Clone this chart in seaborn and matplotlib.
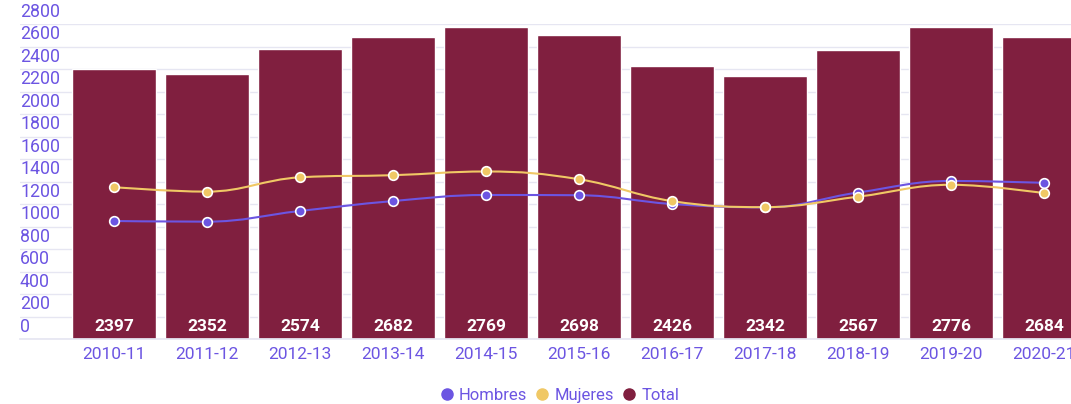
import numpy as np
import pandas as pd
import matplotlib.pyplot as plt
from matplotlib.path import Path
from matplotlib.patches import PathPatch
from matplotlib.lines import Line2D
import seaborn as sns

sns.set_theme(style="white")
plt.rcParams['font.family'] = ['Roboto', 'DejaVu Sans']

seasons = ["2010-11", "2011-12", "2012-13", "2013-14", "2014-15", "2015-16",
           "2016-17", "2017-18", "2018-19", "2019-20", "2020-21"]
total = [2397, 2352, 2574, 2682, 2769, 2698, 2426, 2342, 2567, 2776, 2684]
hombres = [1049, 1043, 1138, 1226, 1280, 1278, 1200, 1170, 1302, 1405, 1388]
mujeres = [1350, 1310, 1437, 1456, 1489, 1420, 1226, 1172, 1265, 1371, 1296]
yticks = list(range(0, 2801, 200))

C_TOTAL = "#801f3f"
C_HOM = "#6c55e2"
C_MUJ = "#f0c865"
C_TEXT = "#6c55e2"
C_GRID = "#e6e6f2"


def spline_path(xs, ys, smoothing=1.5):
    # bezier path through the points, same idea as the highcharts spline
    n = len(xs)
    verts = [(xs[0], ys[0])]
    codes = [Path.MOVETO]
    right_prev = (xs[0], ys[0])
    for i in range(1, n):
        px, py = xs[i], ys[i]
        if i < n - 1:
            lx, ly = xs[i - 1], ys[i - 1]
            nx, ny = xs[i + 1], ys[i + 1]
            d = smoothing + 1
            lcx, lcy = (smoothing * px + lx) / d, (smoothing * py + ly) / d
            rcx, rcy = (smoothing * px + nx) / d, (smoothing * py + ny) / d
            corr = (rcy - lcy) * (rcx - px) / (rcx - lcx) + py - rcy
            lcy += corr
            rcy += corr
            if lcy > ly and lcy > py:
                lcy = max(ly, py)
                rcy = 2 * py - lcy
            elif lcy < ly and lcy < py:
                lcy = min(ly, py)
                rcy = 2 * py - lcy
            if rcy > ny and rcy > py:
                rcy = max(ny, py)
                lcy = 2 * py - rcy
            elif rcy < ny and rcy < py:
                rcy = min(ny, py)
                lcy = 2 * py - rcy
            left_c = (lcx, lcy)
            right_c = (rcx, rcy)
        else:
            left_c = (px, py)
            right_c = (px, py)
        verts += [right_prev, left_c, (px, py)]
        codes += [Path.CURVE4] * 3
        right_prev = right_c
    return Path(verts, codes)


df = pd.DataFrame({"temporada": seasons, "total": total})
pos = np.arange(len(seasons))

fig = plt.figure(figsize=(10.71, 4.04), dpi=100)
ax = fig.add_axes([20 / 1071, 1 - 339 / 404, 1070.5 / 1071, 315 / 404])

for v in yticks:
    ax.axhline(v, color=C_GRID, lw=1, zorder=0)

sns.barplot(data=df, x="temporada", y="total", order=seasons, color=C_TOTAL,
            saturation=1, width=0.9, ax=ax, zorder=2)

for x, v in zip(pos, total):
    ax.annotate(str(v), xy=(x, 0), xytext=(0, 3.5), textcoords="offset points",
                ha="center", va="bottom", color="white", fontsize=12.5,
                fontweight="bold", zorder=5)

for vals, col in [(hombres, C_HOM), (mujeres, C_MUJ)]:
    ax.add_patch(PathPatch(spline_path(pos, vals), facecolor="none",
                           edgecolor=col, lw=1.5, zorder=3))
    sns.scatterplot(x=pos, y=vals, color=col, s=48, edgecolor="white",
                    linewidth=1.2, ax=ax, zorder=4)

ax.set_xlim(-1.01, 10.5)
ax.set_ylim(0, 2800)
ax.set_xlabel("")
ax.set_ylabel("")
ax.set_yticks([])
ax.set_xticks(pos)
ax.set_xticklabels(seasons, color=C_TEXT, fontsize=12.5)
ax.tick_params(axis="x", length=0, pad=5.5)
for s in ["top", "right", "left"]:
    ax.spines[s].set_visible(False)
ax.spines["bottom"].set_color(C_GRID)

for v in yticks:
    ax.annotate(str(v), xy=(0, v), xycoords=("axes fraction", "data"),
                xytext=(0, 2.5), textcoords="offset points", ha="left",
                va="bottom", color=C_TEXT, fontsize=12.8, zorder=1)

handles = [Line2D([], [], marker="o", ls="", color=c, markersize=8)
           for c in [C_HOM, C_MUJ, C_TOTAL]]
fig.legend(handles, ["Hombres", "Mujeres", "Total"], loc="center",
           bbox_to_anchor=(0.522, 0.022), ncol=3, frameon=False,
           handletextpad=0.25, columnspacing=0.5, labelcolor=C_TEXT,
           fontsize=12, handlelength=0.9)

fig.savefig("out.png", dpi=100)
plt.close(fig)
